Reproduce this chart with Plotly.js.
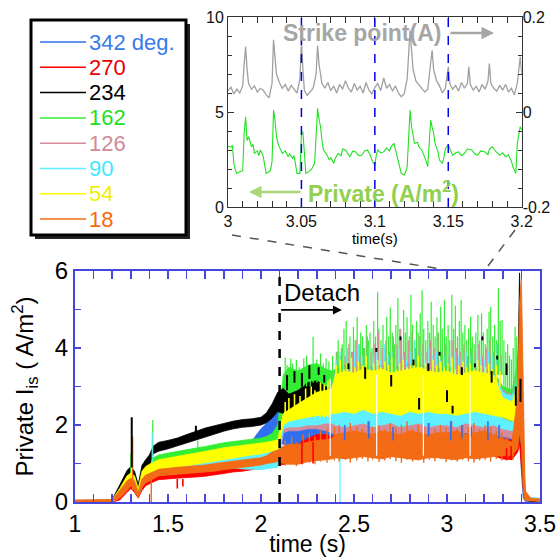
<!DOCTYPE html>
<html><head><meta charset="utf-8">
<script src="https://cdn.plot.ly/plotly-3.0.1.min.js"></script>
<style>html,body{margin:0;padding:0;background:#fff;}#chart{width:558px;height:557px;}</style>
</head><body><div id="chart"></div>
<script>
// ---------- main chart data (time in s, Private Iis in A/m2) ----------
const times = [1.00,1.10,1.20,1.24,1.28,1.30,1.32,1.34,1.36,1.38,1.40,1.42,1.45,1.50,1.55,1.60,1.65,1.70,1.75,1.80,1.85,1.90,1.95,2.00,2.03,2.06,2.09,2.12,2.15,2.20,2.25,2.30,2.35,2.38,2.40,2.45,2.50,2.55,2.60,2.65,2.70,2.75,2.80,2.85,2.90,2.95,3.00,3.05,3.10,3.15,3.20,3.25,3.30,3.35,3.38,3.39,3.40,3.41,3.42,3.45,3.50];

const names = ['342 deg.','270','234','162','126','90','54','18'];

const hi342 = [0.04,0.04,0.06,0.35,0.70,0.80,0.70,0.35,0.85,1.00,1.05,1.10,1.15,1.20,1.25,1.30,1.34,1.38,1.42,1.46,1.50,1.54,1.58,1.90,2.05,2.20,2.35,2.40,2.30,2.25,2.30,2.35,2.25,2.30,2.35,2.25,2.30,2.35,2.25,2.30,2.35,2.25,2.30,2.35,2.25,2.30,2.35,2.25,2.30,2.35,2.25,2.30,2.20,2.10,2.60,4.50,3.00,1.20,0.15,0.05,0.04];
const lo342 = [0,0,0,0.10,0.40,0.50,0.40,0.20,0.55,0.75,0.85,0.90,0.95,1.00,1.05,1.08,1.12,1.16,1.20,1.25,1.30,1.34,1.38,1.42,1.46,1.50,1.55,1.50,1.45,1.40,1.40,1.40,1.40,1.40,1.40,1.40,1.40,1.40,1.40,1.40,1.40,1.40,1.40,1.40,1.40,1.40,1.40,1.40,1.40,1.40,1.40,1.40,1.30,1.30,1.50,1.80,0.80,0.10,0.02,0,0];

const hi270 = [0.04,0.04,0.05,0.25,0.45,0.55,0.45,0.20,0.50,0.60,0.65,0.70,0.75,0.78,0.80,0.82,0.84,0.86,0.90,0.93,0.96,1.00,1.03,1.05,1.10,1.20,1.25,1.35,1.45,1.50,1.65,1.75,1.75,1.70,1.75,1.75,1.75,1.75,1.75,1.75,1.75,1.75,1.75,1.75,1.75,1.75,1.75,1.75,1.75,1.75,1.75,1.75,1.65,1.60,2.20,3.50,2.00,0.80,0.10,0.04,0.04];
const lo270 = [0,0,0,0.05,0.25,0.35,0.25,0.10,0.30,0.42,0.48,0.52,0.58,0.60,0.62,0.64,0.65,0.67,0.70,0.74,0.78,0.80,0.84,0.86,0.90,0.92,0.95,0.98,1.00,1.00,1.05,1.10,1.12,1.14,1.17,1.14,1.17,1.20,1.17,1.14,1.20,1.17,1.14,1.12,1.17,1.17,1.14,1.12,1.17,1.14,1.17,1.20,1.12,1.10,1.30,1.50,1.00,0.30,0.05,0.02,0];

const hi234 = [0.04,0.04,0.06,0.45,0.82,0.92,0.80,0.45,0.95,1.10,1.22,1.45,1.55,1.60,1.66,1.75,1.84,1.92,1.98,2.05,2.10,2.14,2.16,2.20,2.32,2.55,2.85,2.95,2.80,2.90,3.10,3.15,3.00,2.90,3.10,3.15,3.10,3.15,3.10,3.15,3.10,3.15,3.10,3.15,3.10,3.15,3.10,3.10,3.10,3.15,3.10,3.10,2.60,2.40,3.00,5.95,3.50,1.50,0.20,0.06,0.05];
const lo234 = [0,0,0,0.20,0.55,0.65,0.45,0.25,0.60,0.85,0.95,1.25,1.32,1.38,1.45,1.52,1.60,1.68,1.76,1.84,1.90,1.94,1.96,2.00,2.06,2.18,2.35,2.30,2.35,2.40,2.45,2.50,2.55,2.55,2.60,2.60,2.60,2.60,2.60,2.60,2.60,2.60,2.60,2.60,2.60,2.60,2.60,2.60,2.60,2.60,2.60,2.60,2.20,2.10,2.30,2.50,1.50,0.40,0.05,0.02,0];

const hi162 = [0.04,0.04,0.06,0.40,0.75,0.85,0.75,0.40,0.90,1.05,1.10,1.15,1.22,1.27,1.32,1.36,1.40,1.44,1.49,1.54,1.57,1.60,1.63,1.66,1.70,1.78,2.00,3.30,3.50,3.40,3.55,3.60,3.45,3.40,3.45,3.55,3.50,3.60,3.50,3.55,3.45,3.55,3.60,3.60,3.50,3.45,3.55,3.40,3.45,3.50,3.45,3.40,3.00,2.90,3.60,4.60,4.50,1.50,0.20,0.06,0.05];
const lo162 = [0,0,0,0.15,0.50,0.60,0.50,0.25,0.65,0.85,0.95,1.00,1.08,1.12,1.17,1.21,1.25,1.29,1.34,1.39,1.42,1.45,1.48,1.50,1.52,1.55,1.60,2.20,2.30,2.40,2.40,2.40,2.40,2.40,2.40,2.40,2.40,2.40,2.40,2.40,2.40,2.40,2.40,2.40,2.40,2.40,2.40,2.40,2.40,2.40,2.40,2.40,2.30,2.20,2.30,2.50,2.50,1.00,0.10,0.02,0];

const hi126 = [0.04,0.04,0.05,0.30,0.60,0.68,0.60,0.30,0.70,0.80,0.85,0.90,0.95,1.00,1.02,1.05,1.08,1.10,1.12,1.15,1.18,1.22,1.25,1.28,1.30,1.35,1.40,2.30,2.40,2.55,2.70,2.85,2.90,2.95,3.40,3.45,3.40,3.50,3.45,3.50,3.40,3.45,3.50,3.55,3.45,3.40,3.45,3.35,3.40,3.45,3.40,3.35,2.90,2.80,3.60,4.40,3.80,1.80,0.12,0.06,0.05];
const lo126 = [0,0,0,0.12,0.32,0.44,0.32,0.14,0.40,0.52,0.58,0.62,0.70,0.72,0.74,0.76,0.78,0.80,0.82,0.86,0.89,0.88,0.88,0.87,0.88,0.90,0.92,1.80,1.85,1.85,1.90,1.90,1.85,1.80,1.75,1.70,1.75,1.80,1.70,1.75,1.80,1.70,1.75,1.80,1.70,1.75,1.75,1.70,1.80,1.75,1.70,1.75,1.70,1.65,1.80,1.90,1.50,0.50,0.04,0.03,0.02];

const hi90 = [0.04,0.04,0.05,0.30,0.60,0.68,0.60,0.30,0.70,0.80,0.85,0.90,0.95,1.00,1.02,1.05,1.08,1.10,1.12,1.15,1.18,1.22,1.25,1.28,1.30,1.35,1.40,2.25,2.35,2.50,2.65,2.80,2.85,2.90,3.35,3.45,3.40,3.45,3.40,3.50,3.40,3.40,3.50,3.50,3.45,3.40,3.45,3.35,3.40,3.40,3.40,3.35,2.85,2.75,3.40,4.00,3.50,1.80,0.15,0.12,0.10];
const lo90 = [0,0,0,0.12,0.32,0.44,0.32,0.14,0.40,0.52,0.58,0.62,0.70,0.72,0.74,0.76,0.78,0.80,0.82,0.86,0.89,0.86,0.85,0.84,0.86,0.88,0.90,1.90,1.95,1.95,2.00,2.00,2.05,2.05,2.00,1.95,2.00,2.05,1.95,2.00,2.05,1.95,2.00,2.05,1.95,2.00,2.00,1.95,2.05,2.00,1.95,2.00,1.90,1.85,2.00,2.00,1.50,0.50,0.04,0.04,0.03];

const hi54 = [0.04,0.04,0.06,0.35,0.68,0.75,0.68,0.35,0.80,0.92,0.98,1.03,1.10,1.14,1.19,1.23,1.27,1.31,1.36,1.41,1.44,1.47,1.50,1.52,1.55,1.58,1.62,2.30,2.40,2.55,2.70,2.85,2.90,2.95,3.30,3.40,3.35,3.45,3.40,3.45,3.35,3.40,3.45,3.50,3.40,3.35,3.40,3.30,3.35,3.40,3.35,3.30,2.70,2.60,3.00,4.20,3.50,1.60,0.15,0.06,0.05];
const lo54 = [0,0,0,0.18,0.45,0.55,0.45,0.20,0.55,0.70,0.75,0.80,0.85,0.88,0.90,0.94,0.97,1.01,1.06,1.10,1.14,1.18,1.22,1.25,1.28,1.32,1.36,2.00,2.10,2.15,2.20,2.25,2.25,2.30,2.30,2.35,2.30,2.40,2.30,2.35,2.30,2.25,2.35,2.30,2.35,2.30,2.30,2.25,2.30,2.35,2.30,2.25,2.20,2.10,2.20,2.50,2.00,0.80,0.05,0.03,0.02];

const hi18 = [0.05,0.05,0.06,0.30,0.55,0.62,0.55,0.25,0.60,0.70,0.75,0.78,0.85,0.88,0.90,0.92,0.94,0.96,1.00,1.03,1.06,1.10,1.13,1.15,1.20,1.30,1.35,1.45,1.50,1.50,1.55,1.60,1.62,1.65,1.75,1.80,1.85,1.80,1.75,1.85,1.80,1.75,1.85,1.80,1.75,1.80,1.80,1.85,1.75,1.80,1.85,1.75,1.65,1.55,2.80,5.20,5.80,2.50,0.30,0.10,0.08];
const lo18 = [0,0,0,0.10,0.30,0.42,0.30,0.12,0.38,0.50,0.56,0.60,0.68,0.70,0.72,0.74,0.76,0.78,0.80,0.84,0.88,0.90,0.93,0.96,1.00,1.02,1.05,1.00,0.98,0.98,1.05,1.08,1.10,1.12,1.15,1.12,1.15,1.18,1.15,1.12,1.18,1.15,1.12,1.10,1.15,1.15,1.12,1.10,1.15,1.12,1.15,1.18,1.20,1.20,1.40,1.80,1.50,0.30,0.04,0.03,0.02];

// spikes (time, bottom, top)
const spikeT162  = [1.300,1.418,1.660,2.13,2.14,2.16,2.17,2.19,2.205,2.23,2.245,2.265,2.28,2.30,2.32,2.335,2.35,2.365,2.385,
  2.405,2.415,2.428,2.437,2.446,2.458,2.466,2.478,2.487,2.497,2.506,2.517,2.528,2.536,2.546,2.557,2.566,2.577,2.586,2.597,2.606,2.616,2.627,2.634,2.645,2.656,2.665,2.676,2.686,2.695,2.706,2.717,2.725,2.736,2.746,2.756,2.767,2.776,2.785,2.797,2.806,2.815,2.826,2.836,2.845,2.856,2.866,2.875,2.886,2.897,2.906,2.915,2.926,2.936,2.946,2.955,2.966,2.975,2.986,2.996,3.006,3.015,3.026,3.036,3.045,3.056,3.066,3.076,3.085,3.096,3.106,3.116,3.127,3.136,3.146,3.155,3.166,3.176,3.186,3.195,3.206,3.216,3.226,3.235,3.246,3.256,3.266,3.276,3.286,3.296,3.306,3.316,3.326,3.336,3.346,3.356,3.366,3.375];
const spikeLo162 = [0.70,1.10,1.35,3.00,3.00,3.00,3.00,3.00,3.00,3.00,3.00,3.00,3.10,3.10,3.10,3.10,3.10,3.10,3.10,
  3.30,3.30,3.30,3.30,3.30,3.30,3.30,3.30,3.30,3.30,3.30,3.30,3.30,3.30,3.30,3.30,3.30,3.30,3.30,3.30,3.30,3.30,3.30,3.30,3.30,3.30,3.30,3.30,3.30,3.30,3.30,3.30,3.30,3.30,3.30,3.30,3.30,3.30,3.30,3.30,3.30,3.30,3.30,3.30,3.30,3.30,3.30,3.30,3.30,3.30,3.30,3.30,3.30,3.30,3.30,3.30,3.30,3.30,3.30,3.30,3.30,3.30,3.30,3.30,3.30,3.30,3.30,3.30,3.30,3.30,3.30,3.30,3.30,3.30,3.30,3.30,3.30,3.30,3.30,3.30,3.30,3.30,3.30,3.30,3.30,3.30,3.30,3.30,3.30,3.30,2.90,2.80,2.80,2.80,2.80,2.80,2.90,3.00];
const spikeHi162 = [1.25,2.13,1.60,3.75,3.55,3.73,3.60,3.69,3.50,3.73,3.80,3.55,4.29,3.70,3.86,3.60,3.73,3.65,3.80,
  3.90,4.20,3.80,4.10,4.50,4.70,4.00,4.30,3.90,4.55,4.20,4.80,4.10,4.40,4.30,4.00,4.60,4.20,4.40,4.00,4.70,4.30,5.45,4.50,4.20,4.60,4.00,4.81,4.30,5.05,4.40,4.10,4.60,5.30,4.50,4.20,4.99,4.40,4.80,4.30,5.38,4.60,4.20,4.70,4.40,4.90,5.50,4.50,4.20,4.70,4.40,5.20,4.60,4.30,4.80,4.40,5.07,4.50,5.25,4.30,4.60,4.20,5.38,4.50,5.10,4.30,4.70,5.25,4.40,4.60,4.20,4.50,4.81,4.30,4.10,4.40,4.86,4.20,4.90,4.40,4.10,4.50,4.94,5.07,4.30,4.60,4.20,5.55,4.70,4.73,4.20,3.90,4.10,3.80,3.70,4.00,4.55,4.30];

const spikeT126  = [2.410,2.432,2.452,2.472,2.492,2.512,2.532,2.552,2.572,2.592,2.612,2.631,2.652,2.671,2.691,2.712,2.731,2.751,2.771,2.792,2.811,2.831,2.851,2.871,2.892,2.911,2.931,2.951,2.971,2.991,3.011,3.031,3.051,3.071,3.091,3.111,3.131,3.151,3.171,3.191,3.211,3.231,3.251,3.271,3.291];
const spikeLo126 = [3.30,3.30,3.30,3.30,3.30,3.30,3.30,3.30,3.30,3.30,3.30,3.30,3.30,3.30,3.30,3.30,3.30,3.30,3.30,3.30,3.30,3.30,3.30,3.30,3.30,3.30,3.30,3.30,3.30,3.30,3.30,3.30,3.30,3.30,3.30,3.30,3.30,3.30,3.30,3.30,3.30,3.30,3.30,3.30,3.30];
const spikeHi126 = [3.90,4.00,3.80,4.10,3.90,4.20,3.80,4.00,4.30,3.90,4.10,4.40,4.00,4.20,3.90,4.30,4.10,4.50,3.90,4.20,4.40,4.00,4.30,4.10,3.90,4.20,4.00,4.40,3.90,4.10,3.80,4.20,4.00,3.90,4.10,3.80,4.00,3.90,4.10,3.80,4.00,4.20,3.90,4.10,3.80];

const spikeT90  = [1.415,2.425,2.404,2.424,2.443,2.463,2.483,2.503,2.523,2.543,2.563,2.583,2.603,2.623,2.643,2.663,2.683,2.703,2.723,2.743,2.763,2.783,2.803,2.823,2.843,2.863,2.883,2.903,2.923,2.943,2.963,2.983,3.003,3.023,3.043,3.063,3.083,3.103,3.123,3.143,3.163,3.183,3.203,3.223,3.243,3.263,3.283];
const spikeLo90 = [0.90,0.00,3.30,3.30,3.30,3.30,3.30,3.30,3.30,3.30,3.30,3.30,3.30,3.30,3.30,3.30,3.30,3.30,3.30,3.30,3.30,3.30,3.30,3.30,3.30,3.30,3.30,3.30,3.30,3.30,3.30,3.30,3.30,3.30,3.30,3.30,3.30,3.30,3.30,3.30,3.30,3.30,3.30,3.30,3.30,3.30,3.30];
const spikeHi90 = [1.80,1.15,3.70,3.90,3.80,4.00,3.70,3.90,4.10,3.80,3.70,4.00,3.80,3.90,3.70,4.10,3.80,3.90,3.70,4.00,3.80,3.70,3.90,4.20,3.80,3.90,3.70,4.00,3.80,3.90,3.70,3.80,4.00,3.70,3.90,3.80,3.70,3.90,3.80,3.70,4.00,3.80,3.70,3.90,3.80,4.10,3.70];

const spikeT54  = [1.305,2.13,2.15,2.18,2.21,2.24,2.27,2.29,2.32,2.34,2.36,
  2.404,2.426,2.445,2.463,2.486,2.505,2.524,2.547,2.565,2.584,2.606,2.627,2.644,2.666,2.685,2.703,2.726,2.745,2.764,2.787,2.805,2.823,2.846,2.865,2.884,2.907,2.925,2.944,2.967,2.985,3.004,3.027,3.045,3.063,3.086,3.105,3.124,3.147,3.165,3.184,3.207,3.225,3.243,3.266,3.285];
const spikeLo54 = [0.70,2.20,2.20,2.20,2.20,2.20,2.20,2.20,2.20,2.20,2.20,
  3.00,3.00,3.00,3.00,3.00,3.00,3.00,3.00,3.00,3.00,3.00,3.00,3.00,3.00,3.00,3.00,3.00,3.00,3.00,3.00,3.00,3.00,3.00,3.00,3.00,3.00,3.00,3.00,3.00,3.00,3.00,3.00,3.00,3.00,3.00,3.00,3.00,3.00,3.00,3.00,3.00,3.00,3.00,3.00,3.00];
const spikeHi54 = [1.50,2.60,2.70,2.80,2.75,2.95,3.00,2.90,3.10,3.05,3.15,
  3.55,3.70,3.45,3.60,3.75,3.50,3.65,3.55,3.80,3.45,3.60,3.70,3.50,3.65,3.55,3.75,3.45,3.60,3.70,3.50,3.55,3.65,3.80,3.50,3.60,3.45,3.70,3.55,3.65,3.50,3.60,3.75,3.45,3.55,3.65,3.50,3.60,3.45,3.70,3.55,3.50,3.60,3.45,3.55,3.40];

const spikeT342  = [2.45,2.58,2.71,2.90,3.02,3.08,3.13,3.22,3.28];
const spikeLo342 = [1.60,1.65,1.60,1.70,1.60,1.65,1.70,1.60,1.65];
const spikeHi342 = [2.00,2.10,1.95,2.05,2.10,2.00,1.95,2.10,2.00];

const spikeT234  = [1.305,1.650,2.14,2.18,2.22,2.26,2.31,2.34,2.47,2.56,2.62,2.70,2.75,2.82,2.85,2.90,2.96,3.00,3.03,3.08,3.15,3.19,3.24,3.27,3.32,3.37,3.395];
const spikeLo234 = [0.90,1.80,2.90,3.10,3.00,3.20,3.30,3.10,3.45,3.20,3.90,3.00,4.20,3.55,2.40,3.40,3.80,2.60,2.30,3.30,3.50,4.20,3.10,3.70,3.30,2.50,2.60];
const spikeHi234 = [2.20,1.98,3.30,3.40,3.35,3.55,3.50,3.30,3.60,3.50,4.00,3.30,4.30,3.70,2.70,3.60,3.90,2.90,2.50,3.50,3.60,4.30,3.40,3.80,3.60,3.00,3.20];

const spikeT18 = [1.310,1.410,2.13,2.165,2.19,2.225,2.26,2.29,2.32,2.355,2.395,2.42,2.455,2.48,2.515,2.545,2.575,2.60,2.635,2.665,2.695,2.725,2.755,2.785,2.815,2.845,2.875,2.905,2.935,2.965,2.995,3.025,3.055,3.085,3.115,3.145,3.175,3.205,3.235,3.265,3.295,3.325,3.355];
const spikeLo18 = [0.30,0.00,0.95,1.00,0.93,1.00,1.02,0.98,1.05,1.02,1.08,1.05,1.10,1.02,1.08,1.12,1.05,1.10,1.04,1.08,1.12,1.06,1.02,1.10,1.05,1.08,1.02,1.10,1.06,1.12,1.04,1.08,1.05,1.10,1.06,1.02,1.08,1.10,1.05,1.12,1.08,1.14,1.10];
const spikeHi18 = [1.70,0.70,1.60,1.70,1.55,1.75,1.80,1.70,1.85,1.90,1.95,2.00,1.90,2.05,1.95,1.90,2.10,1.95,2.00,1.90,2.05,1.95,2.00,2.10,1.90,2.00,1.95,2.05,1.90,2.00,1.95,2.10,1.90,2.00,1.95,2.05,1.90,2.00,1.95,1.85,1.80,1.70,1.75];
const spikeT270 = [1.550,1.580,2.22,2.28,3.32,3.345], spikeLo270 = [0.35,0.40,0.98,1.00,1.08,1.10], spikeHi270 = [0.60,0.60,1.60,1.55,1.40,1.45];

// data gaps (no signal) seen as thin white lines
const gapT = [2.372, 2.622, 2.873, 3.124], gapLo = [1.20, 1.20, 1.20, 1.20], gapHi = [3.20, 3.30, 3.30, 3.30];

const detachTime = 2.1;

// ---------- inset data ----------
const privT = [3.000,3.002,3.003,3.004,3.005,3.006,3.008,3.010,3.011,3.012,3.013,3.014,3.016,3.017,3.018,3.020,3.021,3.022,3.023,3.024,3.025,3.026,3.028,3.029,3.030,3.031,3.032,3.033,3.034,3.036,3.037,3.039,3.041,3.042,3.044,3.045,3.046,3.047,3.049,3.050,3.051,3.052,3.053,3.055,3.057,3.059,3.060,3.061,3.062,3.063,3.064,3.065,3.067,3.069,3.070,3.072,3.073,3.075,3.077,3.078,3.080,3.082,3.083,3.085,3.087,3.089,3.091,3.093,3.095,3.097,3.098,3.100,3.101,3.102,3.104,3.106,3.108,3.110,3.111,3.113,3.114,3.115,3.117,3.118,3.120,3.121,3.122,3.123,3.124,3.125,3.126,3.127,3.129,3.130,3.132,3.134,3.135,3.136,3.137,3.138,3.139,3.140,3.141,3.143,3.144,3.146,3.147,3.148,3.150,3.151,3.153,3.155,3.157,3.159,3.161,3.163,3.166,3.168,3.170,3.172,3.175,3.177,3.178,3.180,3.182,3.185,3.187,3.189,3.191,3.193,3.194,3.196,3.197,3.199,3.200];
const privV = [3.20,3.15,3.25,2.30,1.95,1.77,1.85,1.90,3.88,4.75,3.50,3.70,3.17,3.30,2.82,2.95,2.70,3.00,2.85,2.65,2.20,1.77,1.85,1.95,2.40,5.10,4.57,3.70,3.35,3.00,2.82,2.95,2.65,2.80,2.56,2.70,2.30,1.77,1.77,3.88,3.96,3.00,1.77,1.86,2.00,2.30,3.80,5.19,4.60,4.23,3.50,3.00,2.80,2.47,2.60,2.30,2.55,2.82,2.70,3.05,3.00,2.75,2.65,2.95,2.90,2.70,2.72,2.95,3.00,2.70,2.47,2.20,2.75,3.00,2.85,2.90,3.10,2.95,3.17,3.35,3.00,2.65,2.10,1.77,1.68,1.85,2.12,3.50,5.10,4.23,3.70,3.35,3.40,3.17,3.00,2.65,2.40,2.12,3.20,4.57,4.20,3.88,3.35,2.90,2.47,2.30,2.60,3.08,3.26,3.05,2.72,2.85,2.90,2.70,2.82,3.05,3.00,2.80,2.72,2.95,2.90,2.75,3.05,3.17,2.95,2.72,2.85,2.65,2.75,2.40,2.12,1.77,3.35,4.23,4.05];

const strikeT = [3.000,3.002,3.004,3.006,3.008,3.010,3.011,3.012,3.013,3.014,3.016,3.018,3.020,3.022,3.024,3.026,3.028,3.030,3.031,3.032,3.033,3.035,3.037,3.039,3.041,3.043,3.045,3.047,3.049,3.050,3.051,3.052,3.054,3.056,3.058,3.060,3.061,3.062,3.064,3.066,3.068,3.070,3.072,3.074,3.076,3.078,3.080,3.082,3.084,3.086,3.088,3.090,3.092,3.094,3.096,3.098,3.100,3.102,3.104,3.106,3.108,3.110,3.112,3.114,3.116,3.118,3.120,3.122,3.124,3.125,3.126,3.128,3.130,3.132,3.134,3.136,3.138,3.139,3.140,3.142,3.144,3.146,3.148,3.150,3.151,3.153,3.155,3.157,3.159,3.161,3.163,3.164,3.165,3.167,3.169,3.171,3.173,3.175,3.177,3.178,3.179,3.181,3.183,3.185,3.187,3.189,3.191,3.193,3.195,3.197,3.199,3.200];
const strikeA = [0.045,0.052,0.038,0.048,0.040,0.055,0.100,0.138,0.090,0.060,0.048,0.055,0.042,0.050,0.046,0.036,0.030,0.060,0.152,0.110,0.080,0.062,0.050,0.058,0.044,0.056,0.047,0.040,0.070,0.150,0.090,0.045,0.035,0.042,0.050,0.080,0.140,0.100,0.060,0.050,0.062,0.045,0.055,0.040,0.058,0.048,0.066,0.050,0.042,0.060,0.046,0.054,0.040,0.062,0.046,0.038,0.052,0.060,0.045,0.072,0.050,0.058,0.044,0.055,0.040,0.032,0.038,0.070,0.172,0.130,0.090,0.065,0.058,0.050,0.042,0.048,0.100,0.130,0.090,0.066,0.055,0.040,0.050,0.095,0.060,0.048,0.056,0.044,0.062,0.050,0.060,0.095,0.058,0.046,0.054,0.042,0.058,0.048,0.064,0.102,0.060,0.050,0.044,0.056,0.046,0.058,0.042,0.050,0.036,0.060,0.116,0.080];
const insetMarks = [3.05, 3.10, 3.15];

// ---------- styles ----------
const fillCol = {'342 deg.':'#2f6ff0','270':'#ff0000','234':'#000000','162':'#33ee33','126':'#d68b9b','90':'#5ff0ff','54':'#ffff00','18':'#f36b14'};
const textCol = {'342 deg.':'#3a7be8','270':'#e80000','234':'#000000','162':'#22e022','126':'#d08a98','90':'#40e8ff','54':'#f2ee00','18':'#f26a12'};
const BLUE = '#4646dc';
const FONT = 'Arial, "Liberation Sans", sans-serif';
const W = 558, H = 557;
const px = x => x / W, py = y => 1 - y / H;

function band(hi, lo, name){
  const c = fillCol[name];
  return {x: times.concat(times.slice().reverse()), y: hi.concat(lo.slice().reverse()),
    type:'scatter', mode:'lines', fill:'toself', fillcolor:c, line:{color:c, width:0.8},
    xaxis:'x', yaxis:'y', hoverinfo:'skip', showlegend:false};
}
function spikes(t, lo, hi, color, w){
  const x = [], y = [];
  t.forEach((v,i)=>{ x.push(v,v,null); y.push(lo[i],hi[i],null); });
  return {x, y, type:'scatter', mode:'lines', line:{color:color, width:w||1.2},
    xaxis:'x', yaxis:'y', hoverinfo:'skip', showlegend:false, connectgaps:false};
}

const data = [
  band(hi342, lo342, '342 deg.'),
  band(hi270, lo270, '270'),
  band(hi162, lo162, '162'),
  band(hi126, lo126, '126'),
  band(hi90, lo90, '90'),
  band(hi234, lo234, '234'),
  spikes(spikeT162, spikeLo162, spikeHi162, fillCol['162'], 1.2),
  spikes(spikeT126, spikeLo126, spikeHi126, fillCol['126'], 1.2),
  spikes(spikeT90, spikeLo90, spikeHi90, fillCol['90'], 1.2),
  band(hi54, lo54, '54'),
  spikes(spikeT54, spikeLo54, spikeHi54, fillCol['54'], 1.6),
  band(hi18, lo18, '18'),
  spikes(spikeT18, spikeLo18, spikeHi18, fillCol['18'], 1.4),
  spikes(spikeT342, spikeLo342, spikeHi342, fillCol['342 deg.'], 1.6),
  spikes(spikeT270, spikeLo270, spikeHi270, fillCol['270'], 1.6),
  spikes(gapT, gapLo, gapHi, '#ffffff', 1.2),
  spikes(spikeT234, spikeLo234, spikeHi234, fillCol['234'], 2),
  {x: strikeT, y: strikeA, type:'scatter', mode:'lines', line:{color:'#a0a0a0', width:1.3},
   xaxis:'x2', yaxis:'y3', hoverinfo:'skip', showlegend:false},
  {x: privT, y: privV, type:'scatter', mode:'lines', line:{color:'#22e022', width:1.1},
   xaxis:'x2', yaxis:'y2', hoverinfo:'skip', showlegend:false}
];

const shapes = [];
const annotations = [];

shapes.push({type:'line', xref:'x', yref:'y', x0:detachTime, x1:detachTime, y0:0, y1:6,
  line:{color:'#000', width:2.5, dash:'dash'}});
insetMarks.forEach(t => shapes.push({type:'line', xref:'x2', yref:'y2', x0:t, x1:t, y0:0, y1:10,
  line:{color:'#0000ee', width:1.5, dash:'dash'}}));
shapes.push({type:'line', xref:'paper', yref:'paper', x0:px(232), y0:py(235), x1:px(447), y1:py(270),
  line:{color:'#555', width:1.5, dash:'dash'}});
shapes.push({type:'line', xref:'paper', yref:'paper', x0:px(515), y0:py(230), x1:px(485), y1:py(270),
  line:{color:'#555', width:1.5, dash:'dash'}});

// legend box
shapes.push({type:'rect', xref:'paper', yref:'paper', x0:px(35), x1:px(190), y0:py(239), y1:py(24),
  fillcolor:'#222', line:{width:0}, layer:'above'});
shapes.push({type:'rect', xref:'paper', yref:'paper', x0:px(31), x1:px(186), y0:py(235), y1:py(20),
  fillcolor:'#fff', line:{color:'#000', width:3}, layer:'above'});
names.forEach((n,i) => {
  const yc = 42 + i*25.3;
  shapes.push({type:'line', xref:'paper', yref:'paper', x0:px(40), x1:px(86), y0:py(yc), y1:py(yc),
    line:{color:fillCol[n], width:1.5}, layer:'above'});
  annotations.push({xref:'paper', yref:'paper', x:px(87), y:py(yc), xanchor:'left', yanchor:'middle',
    text:n, showarrow:false, font:{family:FONT, size:22, color:textCol[n]}});
});

annotations.push({xref:'x', yref:'y', x:2.115, y:5.45, xanchor:'left', yanchor:'middle', text:'Detach',
  showarrow:false, font:{family:FONT, size:24, color:'#000'}});
annotations.push({xref:'x', yref:'y', x:2.435, y:4.99, axref:'x', ayref:'y', ax:detachTime, ay:4.99,
  text:'', showarrow:true, arrowhead:2, arrowsize:1, arrowwidth:1.8, arrowcolor:'#000'});
annotations.push({xref:'paper', yref:'paper', x:px(362), y:py(33), xanchor:'center', yanchor:'middle',
  text:'<b>Strike point(A)</b>', showarrow:false, font:{family:FONT, size:23, color:'#a6a6a6'}});
annotations.push({xref:'paper', yref:'paper', x:px(494), y:py(33), ax:px(449), ay:py(33), axref:'paper', ayref:'paper',
  text:'', showarrow:true, arrowhead:2, arrowsize:1, arrowwidth:2.5, arrowcolor:'#a6a6a6'});
annotations.push({xref:'paper', yref:'paper', x:px(383), y:py(192), xanchor:'center', yanchor:'middle',
  text:'<b>Private (A/m<sup>2</sup>)</b>', showarrow:false, font:{family:FONT, size:23, color:'#92d050'}});
annotations.push({xref:'paper', yref:'paper', x:px(249), y:py(192), ax:px(302), ay:py(192), axref:'paper', ayref:'paper',
  text:'', showarrow:true, arrowhead:2, arrowsize:1, arrowwidth:2.5, arrowcolor:'#a8d878'});

const layout = {
  width: W, height: H, margin:{l:0,r:0,t:0,b:0}, paper_bgcolor:'#fff', plot_bgcolor:'rgba(0,0,0,0)',
  showlegend:false, font:{family:FONT, color:'#000'},
  xaxis:{domain:[px(75),px(540)], range:[1,3.5], dtick:0.5, tick0:1, ticks:'inside', ticklen:8, tickwidth:1.5,
    tickcolor:BLUE, minor:{dtick:0.1, tick0:1, ticks:'inside', ticklen:8, tickwidth:1.5, tickcolor:BLUE},
    showline:true, linecolor:BLUE, linewidth:2, mirror:'allticks', showgrid:false, zeroline:false,
    tickfont:{size:23, family:FONT, color:'#000'}, anchor:'y', automargin:false,
    title:{text:'time (s)', font:{size:23, family:FONT}, standoff:0}},
  yaxis:{domain:[py(502),py(271)], range:[0,6], dtick:2, ticks:'inside', ticklen:6, tickwidth:1.5,
    tickcolor:BLUE, minor:{dtick:1, ticks:'inside', ticklen:6, tickwidth:1.5, tickcolor:BLUE},
    showline:true, linecolor:BLUE, linewidth:2, mirror:'allticks', showgrid:false, zeroline:false,
    tickfont:{size:24, family:FONT, color:'#000'}, anchor:'x', automargin:false,
    title:{text:'Private I<sub>is</sub> ( A/m<sup>2</sup>)', font:{size:24, family:FONT}, standoff:14}},
  xaxis2:{domain:[px(228),px(521.7)], range:[3,3.2], dtick:0.05, tick0:3, ticks:'inside', ticklen:6, tickwidth:1,
    tickcolor:'#333', minor:{dtick:0.01, ticks:'inside', ticklen:4, tickwidth:1, tickcolor:'#333'},
    showline:true, linecolor:'#333', linewidth:1, mirror:'allticks', showgrid:false, zeroline:false,
    tickfont:{size:16, family:FONT, color:'#111'}, anchor:'y2', automargin:false,
    title:{text:'time(s)', font:{size:15, family:FONT}, standoff:0}},
  yaxis2:{domain:[py(207),py(17)], range:[0,10], dtick:5, ticks:'inside', ticklen:6, tickwidth:1,
    tickcolor:'#333', minor:{dtick:1, ticks:'inside', ticklen:4, tickwidth:1, tickcolor:'#333'},
    showline:true, linecolor:'#333', linewidth:1, mirror:'allticks', showgrid:false, zeroline:false,
    tickfont:{size:16, family:FONT, color:'#111'}, anchor:'x2', automargin:false},
  yaxis3:{overlaying:'y2', side:'right', anchor:'x2', range:[-0.2,0.2], tickvals:[-0.2,0,0.2],
    ticktext:['-0.2','0','0.2'], ticks:'', showline:false, showgrid:false, zeroline:false,
    tickfont:{size:16, family:FONT, color:'#111'}, automargin:false},
  shapes, annotations
};

Plotly.newPlot('chart', data, layout, {staticPlot:true, displayModeBar:false});
</script></body></html>
